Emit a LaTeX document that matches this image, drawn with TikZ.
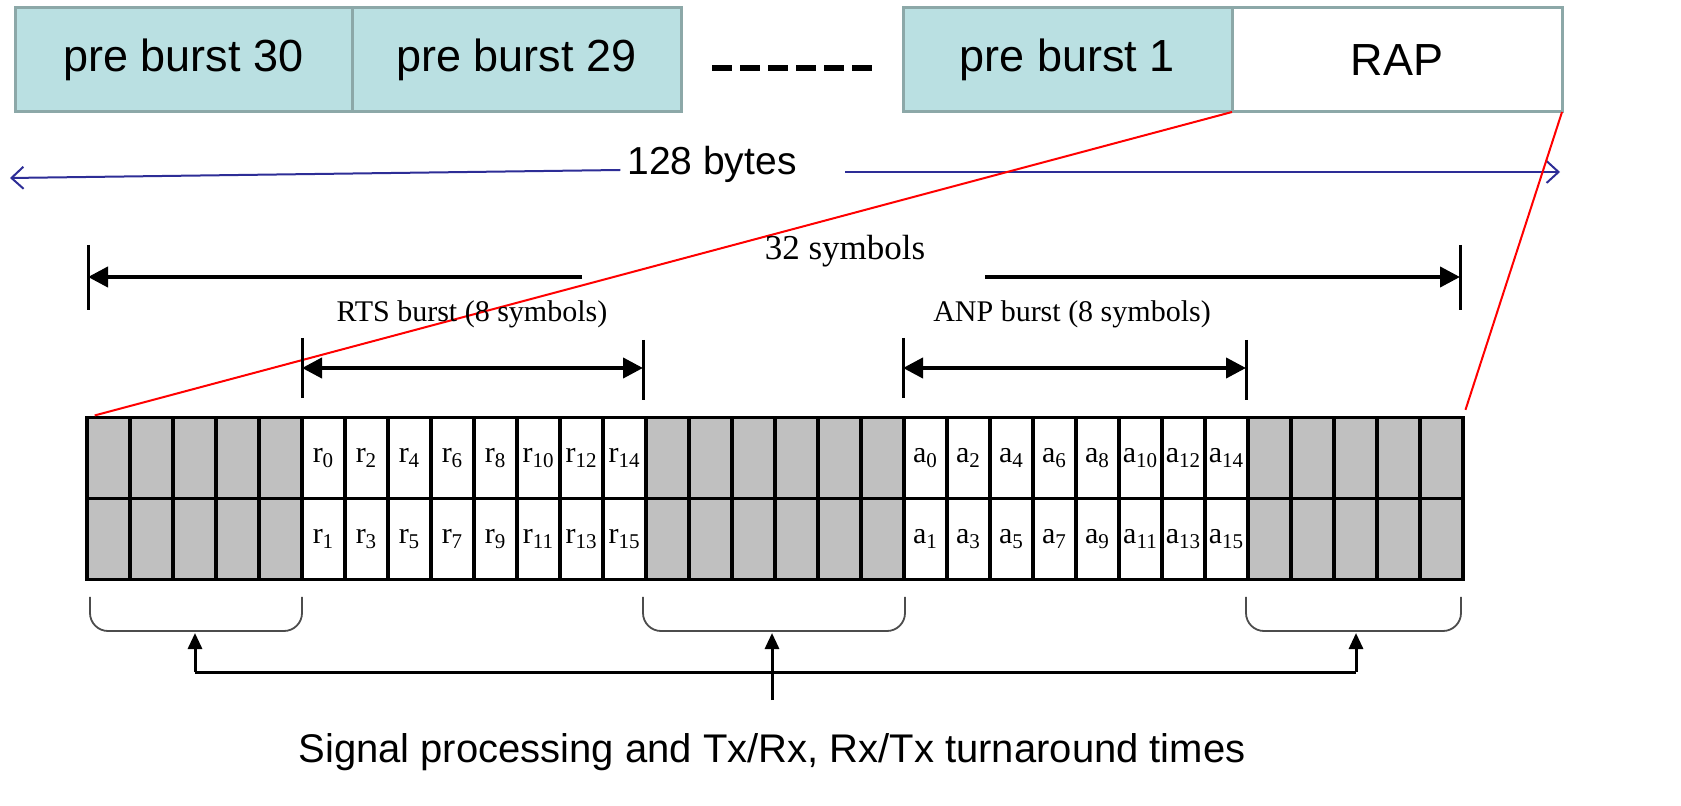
\documentclass[tikz,border=0pt]{standalone}
\usepackage{fontspec}
\setmainfont{Liberation Serif}
\newfontfamily\arial{Liberation Sans}
\usetikzlibrary{arrows.meta,positioning}
\definecolor{burstfill}{RGB}{186,224,226}
\definecolor{burstline}{RGB}{140,168,168}
\definecolor{cellgray}{RGB}{192,192,192}
\definecolor{arrowblue}{RGB}{45,45,150}
\begin{document}
\begin{tikzpicture}
  [x=0.5pt,y=-0.5pt,
   burst/.style={draw=burstline,line width=1.5pt,fill=burstfill,minimum height=52pt,inner sep=0pt,outer sep=0pt,font=\arial\fontsize{22.5}{27}\selectfont},
   gcell/.style={draw,line width=1.8pt,fill=cellgray,minimum width=21.5pt,minimum height=40.5pt,inner sep=0pt,outer sep=0pt},
   scell/.style={gcell,fill=white,font=\fontsize{15}{17}\selectfont},
   dim/.style={line width=2pt,-{Triangle[length=10pt,width=10pt]}},
   dimboth/.style={line width=2pt,{Triangle[length=10pt,width=10pt]}-{Triangle[length=10pt,width=10pt]}},
   tick/.style={line width=1.5pt},
   bluearrow/.style={draw=arrowblue,line width=1pt,-{Straight Barb[length=6pt,width=11pt]}},
   redline/.style={draw=red,line width=1pt},
   brace/.style={draw=gray!60!black,line width=0.9pt,rounded corners=9pt},
   uparrow/.style={line width=1.5pt,-{Triangle[length=8pt,width=7pt]}},
   lab/.style={font=\fontsize{15}{18}\selectfont}]
  \useasboundingbox (0,0) rectangle (1681,806);

  % bursts on top
  \node[burst,minimum width=168.5pt] (pb30) at (183.5,60) {pre burst 30};
  \node[burst,minimum width=164.5pt,right=0pt of pb30] (pb29) {pre burst 29};
  \node[burst,minimum width=164.5pt] (pb1) at (1067.5,60) {pre burst 1};
  \node[burst,minimum width=165pt,fill=white,right=0pt of pb1] (rap) {RAP};
  \draw[line width=3pt,dash pattern=on 10pt off 4pt] (712,68) -- (872,68);

  \node[font=\arial\fontsize{19.5}{23}\selectfont] (bytes) at (712,164) {128 bytes};
  \coordinate (bl) at (10,178);
  \coordinate (bra) at (845,172);
  \coordinate (br) at (1560,172);
  \draw[bluearrow] ([yshift=-3pt]bytes.west) -- (bl);
  \draw[bluearrow] (bra) -- (br);

  % symbol grid
  \foreach \a/\b in {1/5,14/19,28/32}
    \foreach \i in {\a,...,\b} {
      \node[gcell] (t\i) at ({65.5+43*\i},458) {};
      \node[gcell] (b\i) at ({65.5+43*\i},539) {};
    }
  \foreach \i [evaluate=\i as \k using int(2*\i-12), evaluate=\i as \m using int(2*\i-11)] in {6,...,13} {
    \node[scell] (t\i) at ({65.5+43*\i},458) {r\textsubscript{\k}};
    \node[scell] (b\i) at ({65.5+43*\i},539) {r\textsubscript{\m}};
  }
  \foreach \i [evaluate=\i as \k using int(2*\i-40), evaluate=\i as \m using int(2*\i-39)] in {20,...,27} {
    \node[scell] (t\i) at ({65.5+43*\i},458) {a\textsubscript{\k}};
    \node[scell] (b\i) at ({65.5+43*\i},539) {a\textsubscript{\m}};
  }

  \draw[redline,shorten >=4pt] (pb1.south east) -- (t1.north west);
  \draw[redline,shorten >=4pt] (rap.south east) -- (t32.north east);

  % 32 symbols
  \node[font=\fontsize{17.5}{21}\selectfont] (sym32) at (845,251) {32 symbols};
  \coordinate (s32a) at (582,277);
  \coordinate (s32b) at (88,277);
  \coordinate (s32c) at (985,277);
  \coordinate (s32d) at (1460,277);
  \draw[dim] (s32a) -- (s32b);
  \draw[dim] (s32c) -- (s32d);
  \draw[tick] (88,245) -- (88,310);
  \draw[tick] (1460,245) -- (1460,310);

  % bursts
  \node[lab] (rts) at (472,314) {RTS burst (8 symbols)};
  \coordinate (rtsl) at (302,368);
  \coordinate (rtsr) at (643,368);
  \draw[dimboth] (rtsl) -- (rtsr);
  \draw[tick] (302,338) -- (302,398);
  \draw[tick] (643,340) -- (643,400);
  \node[lab] (anp) at (1072,314) {ANP burst (8 symbols)};
  \coordinate (anpl) at (903,368);
  \coordinate (anpr) at (1246,368);
  \draw[dimboth] (anpl) -- (anpr);
  \draw[tick] (903,338) -- (903,398);
  \draw[tick] (1246,340) -- (1246,400);

  % turnaround gaps
  \draw[brace] (90,597) -- (90,631) -- (302,631) -- (302,597);
  \draw[brace] (643,597) -- (643,631) -- (905,631) -- (905,597);
  \draw[brace] (1246,597) -- (1246,631) -- (1461,631) -- (1461,597);
  \coordinate (g1) at (195,633);
  \coordinate (g2) at (772,633);
  \coordinate (g3) at (1356,633);
  \coordinate (j1) at (195,672);
  \coordinate (j3) at (1356,672);
  \coordinate (nt) at (772,700);
  \node[font=\arial\fontsize{20}{24}\selectfont] (note) at (772,752) {Signal processing and Tx/Rx, Rx/Tx turnaround times};
  \draw[line width=1.5pt] (j1) -- (j3);
  \draw[uparrow] (j1) -- (g1);
  \draw[uparrow] (j3) -- (g3);
  \draw[uparrow] (nt) -- (g2);

\end{tikzpicture}
\end{document}
